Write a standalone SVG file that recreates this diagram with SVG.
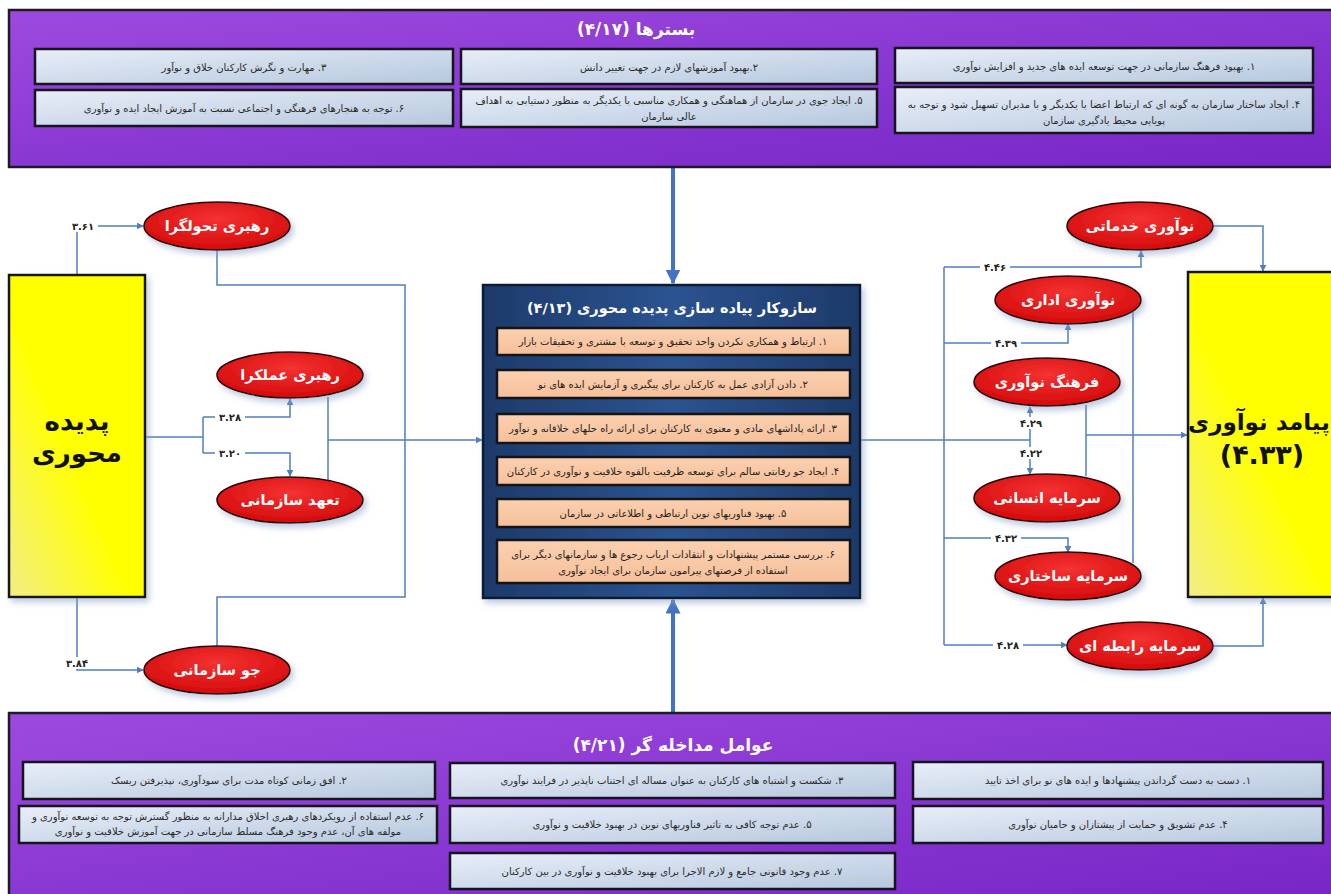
<svg xmlns="http://www.w3.org/2000/svg" width="1331" height="894" viewBox="0 0 1331 894">
  <style>
    .fa { font-family: "DejaVu Sans", "Noto Sans", sans-serif; direction: rtl; }
    .panel { fill: url(#gPurple); stroke: #1c1c24; stroke-width: 2.5; }
    .lbox { fill: url(#gLight); stroke: #15151c; stroke-width: 2.5; }
    .ltxt { font-size: 10px; fill: #2a2a2a; text-anchor: middle; }
    .ptitle { font-size: 17px; font-weight: bold; fill: #ffffff; text-anchor: middle; }
    .core { fill: url(#gNavy); stroke: #0d1a33; stroke-width: 2.5; }
    .pbox { fill: url(#gPeach); stroke: #141414; stroke-width: 2.5; }
    .ptxt { font-size: 10px; fill: #222; text-anchor: middle; }
    .ell { fill: url(#gRed); stroke: #2b0505; stroke-width: 1.6; }
    .etxt { font-size: 14.5px; font-weight: bold; fill: #ffffff; text-anchor: middle; }
    .ybox { fill: url(#gYellow); stroke: #151515; stroke-width: 2.5; }
    .ytxt { font-weight: bold; fill: #111; text-anchor: middle; }
    .wire { fill: none; stroke: #4f7fbe; stroke-width: 1.5; }
    .big { fill: none; stroke: #4472c4; stroke-width: 4; }
    .num { font-size: 10px; font-weight: bold; fill: #222; text-anchor: middle; }
    .numbg { fill: #ffffff; }
  </style>
  <defs>
    <linearGradient id="gPurple" x1="0" y1="0" x2="1" y2="1">
      <stop offset="0" stop-color="#9c4ade"/>
      <stop offset="1" stop-color="#7725c6"/>
    </linearGradient>
    <linearGradient id="gLight" x1="0" y1="0" x2="1" y2="1">
      <stop offset="0" stop-color="#e8eef8"/>
      <stop offset="1" stop-color="#b6c8de"/>
    </linearGradient>
    <linearGradient id="gNavy" x1="0" y1="0" x2="1" y2="0">
      <stop offset="0" stop-color="#1d3a6a"/>
      <stop offset="0.5" stop-color="#2b5390"/>
      <stop offset="1" stop-color="#1d3a6a"/>
    </linearGradient>
    <linearGradient id="gPeach" x1="0" y1="0" x2="0" y2="1">
      <stop offset="0" stop-color="#fbd0b0"/>
      <stop offset="1" stop-color="#f6c09a"/>
    </linearGradient>
    <radialGradient id="gRed" cx="0.5" cy="0.35" r="0.65">
      <stop offset="0" stop-color="#f43232"/>
      <stop offset="1" stop-color="#d40a0a"/>
    </radialGradient>
    <linearGradient id="gYellow" x1="0" y1="1" x2="1" y2="0">
      <stop offset="0" stop-color="#f2ee86"/>
      <stop offset="0.45" stop-color="#ffff00"/>
      <stop offset="1" stop-color="#ffff00"/>
    </linearGradient>
    <filter id="shadow" x="-10%" y="-10%" width="125%" height="130%">
      <feDropShadow dx="3" dy="4" stdDeviation="3" flood-color="#8aa0c4" flood-opacity="0.55"/>
    </filter>
    <marker id="arr" viewBox="0 0 10 10" refX="9" refY="5" markerWidth="7" markerHeight="7" orient="auto" markerUnits="userSpaceOnUse">
      <path d="M0,0 L10,5 L0,10 z" fill="#4f7fbe"/>
    </marker>
    <marker id="arrBig" viewBox="0 0 10 10" refX="9" refY="5" markerWidth="15" markerHeight="15" orient="auto" markerUnits="userSpaceOnUse">
      <path d="M0,0 L10,5 L0,10 z" fill="#4472c4"/>
    </marker>
  </defs>

  <rect width="1331" height="894" fill="#ffffff"/>

  <!-- connectors -->
  <g id="connectors">
    <!-- context panels into the core mechanism -->
    <path class="big" d="M673,167 V283" marker-end="url(#arrBig)"/>
    <path class="big" d="M673,712 V600" marker-end="url(#arrBig)"/>

    <!-- left side -->
    <path class="wire" d="M77,275 V226 H143" marker-end="url(#arr)"/>
    <path class="wire" d="M77,597 V670 H143" marker-end="url(#arr)"/>
    <path class="wire" d="M145,437 H203"/>
    <path class="wire" d="M203,417 V453"/>
    <path class="wire" d="M203,417 H290 V399" marker-end="url(#arr)"/>
    <path class="wire" d="M203,453 H290 V476" marker-end="url(#arr)"/>
    <path class="wire" d="M217,250 V285 H405 V597 H217 V646"/>
    <path class="wire" d="M328,397 V480"/>
    <path class="wire" d="M328,440 H482" marker-end="url(#arr)"/>

    <!-- right side -->
    <path class="wire" d="M861,440 H1030"/>
    <path class="wire" d="M1030,440 V407" marker-end="url(#arr)"/>
    <path class="wire" d="M1030,440 V474" marker-end="url(#arr)"/>
    <path class="wire" d="M944,267 V645"/>
    <path class="wire" d="M944,267 H1141 V251" marker-end="url(#arr)"/>
    <path class="wire" d="M944,343 H1068 V324" marker-end="url(#arr)"/>
    <path class="wire" d="M944,538 H1068 V552" marker-end="url(#arr)"/>
    <path class="wire" d="M944,645 H1067" marker-end="url(#arr)"/>
    <path class="wire" d="M1213,226 H1263 V271" marker-end="url(#arr)"/>
    <path class="wire" d="M1213,646 H1263 V598" marker-end="url(#arr)"/>
    <path class="wire" d="M1133,312 V563"/>
    <path class="wire" d="M1086,405 V476"/>
    <path class="wire" d="M1086,435 H1187" marker-end="url(#arr)"/>

    <!-- path coefficients -->
    <g class="fa">
      <rect class="numbg" x="68" y="220" width="30" height="12"/>
      <text class="num" x="83" y="230">۳.۶۱</text>
      <rect class="numbg" x="62" y="657" width="30" height="12"/>
      <text class="num" x="77" y="667">۳.۸۴</text>
      <rect class="numbg" x="215" y="411" width="30" height="12"/>
      <text class="num" x="230" y="421">۳.۲۸</text>
      <rect class="numbg" x="215" y="447" width="30" height="12"/>
      <text class="num" x="230" y="457">۳.۲۰</text>
      <rect class="numbg" x="980" y="261" width="30" height="12"/>
      <text class="num" x="995" y="271">۴.۴۶</text>
      <rect class="numbg" x="991" y="337" width="30" height="12"/>
      <text class="num" x="1006" y="347">۴.۳۹</text>
      <rect class="numbg" x="1016" y="417" width="30" height="12"/>
      <text class="num" x="1031" y="427">۴.۲۹</text>
      <rect class="numbg" x="1016" y="447" width="30" height="12"/>
      <text class="num" x="1031" y="457">۴.۲۲</text>
      <rect class="numbg" x="991" y="532" width="30" height="12"/>
      <text class="num" x="1006" y="542">۴.۳۲</text>
      <rect class="numbg" x="993" y="639" width="30" height="12"/>
      <text class="num" x="1008" y="649">۴.۲۸</text>
    </g>
  </g>

  <!-- contexts panel -->
  <g id="contexts" class="fa">
    <rect class="panel" x="9" y="10" width="1330" height="157"/>
    <text class="ptitle" x="636" y="35">بسترها (۴/۱۷)</text>
    <rect class="lbox" x="895" y="48" width="418" height="35"/>
    <text class="ltxt" x="1104" y="70">۱. بهبود فرهنگ سازمانی در جهت توسعه ایده های جدید و افزایش نوآوری</text>
    <rect class="lbox" x="461" y="49" width="416" height="35"/>
    <text class="ltxt" x="669" y="71">۲.بهبود آموزشهای لازم در جهت تغییر دانش</text>
    <rect class="lbox" x="35" y="49" width="418" height="35"/>
    <text class="ltxt" x="244" y="71">۳. مهارت و نگرش کارکنان خلاق و نوآور</text>
    <rect class="lbox" x="895" y="87" width="418" height="46"/>
    <text class="ltxt" x="1104" y="108">۴. ایجاد ساختار سازمان به گونه ای که ارتباط اعضا با یکدیگر و با مدیران تسهیل شود و توجه به</text>
    <text class="ltxt" x="1104" y="124">پویایی محیط یادگیری سازمان</text>
    <rect class="lbox" x="461" y="89" width="416" height="38"/>
    <text class="ltxt" x="669" y="104">۵. ایجاد جوی در سازمان از هماهنگی و همکاری مناسبی با یکدیگر به منظور دستیابی به اهداف</text>
    <text class="ltxt" x="669" y="120">عالی سازمان</text>
    <rect class="lbox" x="35" y="90" width="418" height="36"/>
    <text class="ltxt" x="244" y="112">۶. توجه به هنجارهای فرهنگی و اجتماعی نسبت به آموزش ایجاد ایده و نوآوری</text>
  </g>

  <!-- intervening factors panel -->
  <g id="interveners" class="fa">
    <rect class="panel" x="9" y="713" width="1330" height="190"/>
    <text class="ptitle" x="673" y="751">عوامل مداخله گر (۴/۲۱)</text>
    <rect class="lbox" x="913" y="762" width="410" height="37"/>
    <text class="ltxt" x="1118" y="784">۱. دست به دست گرداندن پیشنهادها و ایده های نو برای اخذ تایید</text>
    <rect class="lbox" x="23" y="762" width="412" height="37"/>
    <text class="ltxt" x="229" y="784">۲. افق زمانی کوتاه مدت برای سودآوری، نپذیرفتن ریسک</text>
    <rect class="lbox" x="450" y="763" width="445" height="35"/>
    <text class="ltxt" x="672" y="784">۳. شکست و اشتباه های کارکنان به عنوان مساله ای اجتناب ناپذیر در فرایند نوآوری</text>
    <rect class="lbox" x="913" y="806" width="410" height="37"/>
    <text class="ltxt" x="1118" y="828">۴. عدم تشویق و حمایت از پیشتازان و حامیان نوآوری</text>
    <rect class="lbox" x="450" y="806" width="445" height="37"/>
    <text class="ltxt" x="672" y="828">۵. عدم توجه کافی به تاثیر فناوریهای نوین در بهبود خلاقیت و نوآوری</text>
    <rect class="lbox" x="19" y="806" width="418" height="37"/>
    <text class="ltxt" x="228" y="820" font-size="9.6">۶. عدم استفاده از رویکردهای رهبری اخلاق مدارانه به منظور گسترش توجه به توسعه نوآوری و</text>
    <text class="ltxt" x="228" y="835" font-size="9.6">مولفه های آن، عدم وجود فرهنگ مسلط سازمانی در جهت آموزش خلاقیت و نوآوری</text>
    <rect class="lbox" x="450" y="853" width="445" height="36"/>
    <text class="ltxt" x="672" y="875">۷. عدم وجود قانونی جامع و لازم الاجرا برای بهبود خلاقیت و نوآوری در بین کارکنان</text>
  </g>

  <!-- core mechanism -->
  <g id="mechanism" class="fa">
    <rect class="core" x="483" y="285" width="377" height="313" filter="url(#shadow)"/>
    <text x="672" y="313" font-size="14.5" font-weight="bold" fill="#ffffff" text-anchor="middle">سازوکار پیاده سازی پدیده محوری (۴/۱۳)</text>
    <rect class="pbox" x="497" y="328" width="353" height="27"/>
    <text class="ptxt" x="673" y="345">۱. ارتباط و همکاری نکردن واحد تحقیق و توسعه با مشتری و تحقیقات بازار</text>
    <rect class="pbox" x="497" y="370" width="353" height="28"/>
    <text class="ptxt" x="673" y="388">۲. دادن آزادی عمل به کارکنان برای پیگیری و آزمایش ایده های نو</text>
    <rect class="pbox" x="497" y="414" width="353" height="29"/>
    <text class="ptxt" x="673" y="432">۳. ارائه پاداشهای مادی و معنوی به کارکنان برای ارائه راه حلهای خلاقانه و نوآور</text>
    <rect class="pbox" x="497" y="457" width="353" height="28"/>
    <text class="ptxt" x="673" y="475">۴. ایجاد جو رقابتی سالم برای توسعه ظرفیت بالقوه خلاقیت و نوآوری در کارکنان</text>
    <rect class="pbox" x="497" y="499" width="353" height="28"/>
    <text class="ptxt" x="673" y="517">۵. بهبود فناوریهای نوین ارتباطی و اطلاعاتی در سازمان</text>
    <rect class="pbox" x="497" y="540" width="353" height="43"/>
    <text class="ptxt" x="673" y="558">۶. بررسی مستمر پیشنهادات و انتقادات ارباب رجوع ها و سازمانهای دیگر برای</text>
    <text class="ptxt" x="673" y="574">استفاده از فرصتهای پیرامون سازمان برای ایجاد نوآوری</text>
  </g>

  <!-- axial phenomenon -->
  <g id="axial" class="fa">
    <rect class="ybox" x="9" y="275" width="136" height="322" filter="url(#shadow)"/>
    <text class="ytxt" x="77" y="430" font-size="26">پدیده</text>
    <text class="ytxt" x="77" y="462" font-size="26">محوری</text>
  </g>

  <!-- outcome -->
  <g id="outcome" class="fa">
    <rect class="ybox" x="1188" y="272" width="160" height="325" filter="url(#shadow)"/>
    <text class="ytxt" x="1259" y="430" font-size="23">پیامد نوآوری</text>
    <text class="ytxt" x="1262" y="464" font-size="27">(۴.۳۳)</text>
  </g>

  <!-- left ellipses -->
  <g id="transformational" class="fa">
    <ellipse class="ell" cx="217" cy="226" rx="73" ry="24" filter="url(#shadow)"/>
    <text class="etxt" x="217" y="231">رهبری تحولگرا</text>
  </g>
  <g id="transactional" class="fa">
    <ellipse class="ell" cx="290" cy="375" rx="73" ry="23" filter="url(#shadow)"/>
    <text class="etxt" x="290" y="380">رهبری عملکرا</text>
  </g>
  <g id="commitment" class="fa">
    <ellipse class="ell" cx="290" cy="500" rx="73" ry="23" filter="url(#shadow)"/>
    <text class="etxt" x="290" y="505">تعهد سازمانی</text>
  </g>
  <g id="climate" class="fa">
    <ellipse class="ell" cx="217" cy="670" rx="73" ry="24" filter="url(#shadow)"/>
    <text class="etxt" x="217" y="675">جو سازمانی</text>
  </g>

  <!-- right ellipses -->
  <g id="service" class="fa">
    <ellipse class="ell" cx="1140" cy="226" rx="73" ry="24" filter="url(#shadow)"/>
    <text class="etxt" x="1140" y="231">نوآوری خدماتی</text>
  </g>
  <g id="administrative" class="fa">
    <ellipse class="ell" cx="1068" cy="300" rx="73" ry="24" filter="url(#shadow)"/>
    <text class="etxt" x="1068" y="305">نوآوری اداری</text>
  </g>
  <g id="culture" class="fa">
    <ellipse class="ell" cx="1047" cy="382" rx="73" ry="24" filter="url(#shadow)"/>
    <text class="etxt" x="1047" y="387">فرهنگ نوآوری</text>
  </g>
  <g id="human" class="fa">
    <ellipse class="ell" cx="1047" cy="498" rx="73" ry="24" filter="url(#shadow)"/>
    <text class="etxt" x="1047" y="503">سرمایه انسانی</text>
  </g>
  <g id="structural" class="fa">
    <ellipse class="ell" cx="1068" cy="576" rx="73" ry="24" filter="url(#shadow)"/>
    <text class="etxt" x="1068" y="581">سرمایه ساختاری</text>
  </g>
  <g id="relational" class="fa">
    <ellipse class="ell" cx="1140" cy="646" rx="73" ry="24" filter="url(#shadow)"/>
    <text class="etxt" x="1140" y="651">سرمایه رابطه ای</text>
  </g>
</svg>
